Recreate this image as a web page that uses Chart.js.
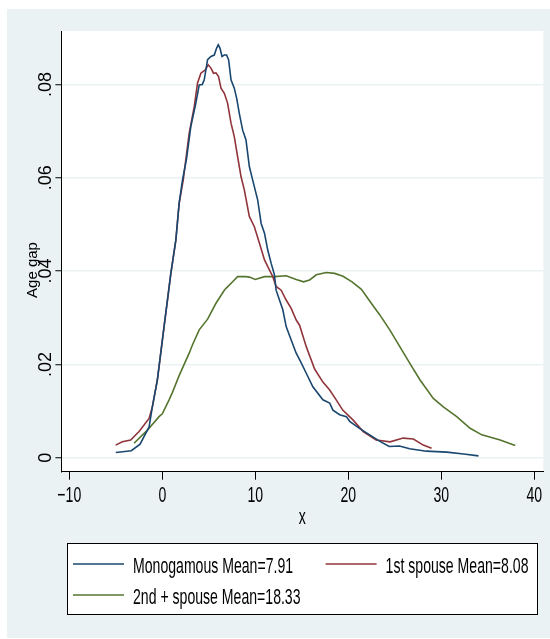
<!DOCTYPE html>
<html>
<head>
<meta charset="utf-8">
<script src="https://cdn.jsdelivr.net/npm/chart.js@4.4.1/dist/chart.umd.min.js"></script>
<style>
  html, body { margin: 0; padding: 0; background: #fff; }
  canvas { display: block; }
</style>
</head>
<body>
<canvas id="chart" width="550" height="639"></canvas>
<script>
// --- data (x = age gap, y = density) ---
const seriesLabels = ['Monogamous Mean=7.91', '1st spouse Mean=8.08', '2nd + spouse Mean=18.33'];
const seriesColors = ['#1a476f', '#90353b', '#55752f'];
const xTicks = [-10, 0, 10, 20, 30, 40];
const yTicks = [0, 0.02, 0.04, 0.06, 0.08];
const xTitle = 'x';
const yTitle = 'Age gap';

const monogamous = [
  [-5.0, .0011], [-3.33, .0015], [-2.39, .0029], [-1.42, .0066], [-1.07, .0109], [-0.53, .0167],
  [0.19, .0281], [0.92, .0395], [1.46, .0467], [1.81, .0545], [2.17, .0595], [2.6, .0640],
  [3.07, .0710], [3.61, .0760], [3.97, .0799], [4.3, .0800], [4.51, .0810], [4.87, .0853],
  [5.23, .0860], [5.59, .0863], [5.84, .0878], [6.02, .0885], [6.2, .0878], [6.42, .0860],
  [6.67, .0863], [6.91, .0863], [7.13, .0853], [7.39, .0810], [7.74, .0792], [8.0, .0770],
  [8.28, .0738], [8.64, .0702], [9.0, .0681], [9.36, .0624], [9.72, .0595], [10.26, .0552],
  [10.63, .0502], [10.99, .0481], [11.34, .0445], [11.7, .0417], [12.06, .0392], [12.24, .0359],
  [12.6, .0338], [12.96, .0317], [13.32, .0281], [13.9, .0250], [14.4, .0224], [14.9, .0205],
  [15.48, .0181], [16.19, .0152], [17.27, .0124], [18.0, .0117], [18.35, .0102], [19.07, .0092],
  [19.8, .0088], [20.15, .0078], [21.2, .0063], [22.3, .0049], [23.4, .0035], [24.4, .0024],
  [25.5, .0025], [26.6, .0019], [28.4, .0014], [30.6, .0012], [32.4, .0008], [34.0, .0004]
];

const firstSpouse = [
  [-5.02, .0027], [-4.3, .0034], [-3.4, .0038], [-2.5, .0056], [-1.42, .0084], [-1.07, .0109],
  [-0.53, .0167], [0.19, .0281], [0.92, .0395], [1.46, .0467], [1.81, .0545], [2.25, .0595],
  [2.89, .0695], [3.43, .0752], [3.79, .0803], [4.15, .0824], [4.62, .0831], [4.94, .0842],
  [5.23, .0835], [5.51, .0824], [5.77, .0825], [6.05, .0817], [6.31, .0792], [6.67, .0781],
  [7.02, .0760], [7.39, .0717], [7.74, .0688], [8.1, .0645], [8.47, .0602], [8.82, .0574],
  [9.36, .0517], [9.9, .0495], [10.44, .0460], [10.99, .0424], [11.53, .0402], [11.88, .0388],
  [12.24, .0367], [12.78, .0359], [13.32, .0338], [13.86, .0320], [14.4, .0295], [14.76, .0284],
  [15.48, .0238], [16.38, .0190], [17.27, .0162], [18.0, .0145], [18.7, .0124], [19.4, .0102],
  [20.5, .0081], [21.6, .0056], [23.0, .0038], [24.5, .0034], [25.9, .0042], [27.0, .0040],
  [28.06, .0027], [28.96, .0020]
];

const laterSpouse = [
  [-3.04, .0031], [-1.6, .0059], [-0.35, .0088], [0.0, .0094], [0.73, .0124], [1.09, .0140],
  [1.81, .0176], [2.17, .0192], [2.89, .0224], [3.25, .0242], [3.97, .0274], [4.87, .0297],
  [5.77, .0331], [6.67, .0359], [6.85, .0363], [7.56, .0377], [8.1, .0388], [8.47, .0388],
  [9.0, .0388], [9.36, .0387], [10.0, .0382], [10.98, .0388], [12.06, .0388], [13.32, .0390],
  [14.4, .0382], [15.19, .0377], [15.84, .0381], [16.56, .0392], [17.64, .0397], [18.53, .0395],
  [19.43, .0389], [20.4, .0377], [21.41, .0361], [22.3, .0336], [23.39, .0306], [24.46, .0274],
  [25.54, .0238], [26.62, .0202], [27.7, .0167], [29.14, .0127], [30.22, .0109], [31.66, .0088],
  [33.1, .0063], [34.36, .0049], [36.33, .0038], [37.95, .0026]
];

const seriesData = [monogamous, firstSpouse, laterSpouse];

const BG = '#eaf2f3';
const SANS = '"Liberation Sans", Arial, sans-serif';

// Stata-like tall, narrow text
function drawText(ctx, text, x, y, size, opts = {}) {
  ctx.save();
  ctx.translate(x, y);
  if (opts.rotate) ctx.rotate(opts.rotate);
  ctx.scale(opts.sx || 1, 1);
  ctx.font = size + 'px ' + SANS;
  ctx.textAlign = opts.align || 'center';
  ctx.textBaseline = 'alphabetic';
  ctx.fillStyle = '#000';
  ctx.fillText(text, 0, 0);
  ctx.restore();
}

function fmtY(v) {
  return v === 0 ? '0' : v.toFixed(2).replace(/^0/, '');
}
function fmtX(v) {
  return v < 0 ? '\u2212' + Math.abs(v) : String(v);
}

const stataBackground = {
  id: 'stataBackground',
  beforeDraw(chart) {
    const { ctx, chartArea: a } = chart;
    ctx.save();
    ctx.fillStyle = '#fff';
    ctx.fillRect(0, 0, chart.width, chart.height);
    ctx.fillStyle = BG;
    ctx.fillRect(7, 9, chart.width - 7, chart.height - 10);
    ctx.fillStyle = '#fff';
    ctx.fillRect(a.left, a.top, a.right - a.left, a.bottom - a.top);
    ctx.restore();
  }
};

const stataLabels = {
  id: 'stataLabels',
  afterDraw(chart) {
    const { ctx, scales } = chart;
    const xs = scales.x, ys = scales.y;

    xTicks.forEach(v => drawText(ctx, fmtX(v), xs.getPixelForValue(v), 501.5, 22, { sx: 0.64 }));
    drawText(ctx, xTitle, (chart.chartArea.left + chart.chartArea.right) / 2, 524, 22, { sx: 0.64 });

    yTicks.forEach(v => drawText(ctx, fmtY(v), 51, ys.getPixelForValue(v), 18, { rotate: -Math.PI / 2 }));
    drawText(ctx, yTitle, 36.5, 270, 15, { rotate: -Math.PI / 2 });

    // legend box
    ctx.save();
    ctx.fillStyle = '#fff';
    ctx.fillRect(67.5, 543.5, 470, 71);
    ctx.strokeStyle = '#000';
    ctx.lineWidth = 1;
    ctx.strokeRect(67.5, 543.5, 470, 71);
    ctx.restore();

    const slots = [
      { x: 73, y: 564 },
      { x: 325.6, y: 564 },
      { x: 73, y: 595 }
    ];
    chart.data.datasets.forEach((ds, i) => {
      const s = slots[i];
      ctx.save();
      ctx.strokeStyle = ds.borderColor;
      ctx.lineWidth = ds.borderWidth;
      ctx.beginPath();
      ctx.moveTo(s.x, s.y);
      ctx.lineTo(s.x + 51, s.y);
      ctx.stroke();
      ctx.restore();
      drawText(ctx, ds.label, s.x + 60, s.y + 8.5, 22, { sx: 0.64, align: 'left' });
    });
  }
};

new Chart(document.getElementById('chart'), {
  type: 'line',
  data: {
    datasets: seriesData.map((rows, i) => ({
      label: seriesLabels[i],
      data: rows.map(([x, y]) => ({ x, y })),
      borderColor: seriesColors[i],
      backgroundColor: seriesColors[i],
      borderWidth: 1.6,
      pointRadius: 0,
      tension: 0,
      fill: false
    }))
  },
  options: {
    responsive: false,
    animation: false,
    devicePixelRatio: 1,
    layout: { padding: { left: 7, right: 6.7, top: 31, bottom: 107.3 } },
    plugins: {
      legend: { display: false },
      tooltip: { enabled: false }
    },
    scales: {
      x: {
        type: 'linear',
        min: -10.85,
        max: 40.97,
        afterBuildTicks: scale => { scale.ticks = xTicks.map(v => ({ value: v })); },
        afterFit: scale => { scale.height = 60; },
        ticks: { display: false },
        grid: { drawOnChartArea: false, tickLength: 8, tickColor: '#000', tickWidth: 1 },
        border: { color: '#000', width: 1 }
      },
      y: {
        type: 'linear',
        min: -0.003,
        max: 0.09145,
        afterBuildTicks: scale => { scale.ticks = yTicks.map(v => ({ value: v })); },
        afterFit: scale => { scale.width = 54.4; },
        ticks: { display: false },
        grid: { color: BG, lineWidth: 1.5, tickLength: 6, tickColor: '#000', tickWidth: 1 },
        border: { color: '#000', width: 1 }
      }
    }
  },
  plugins: [stataBackground, stataLabels]
});
</script>
</body>
</html>
